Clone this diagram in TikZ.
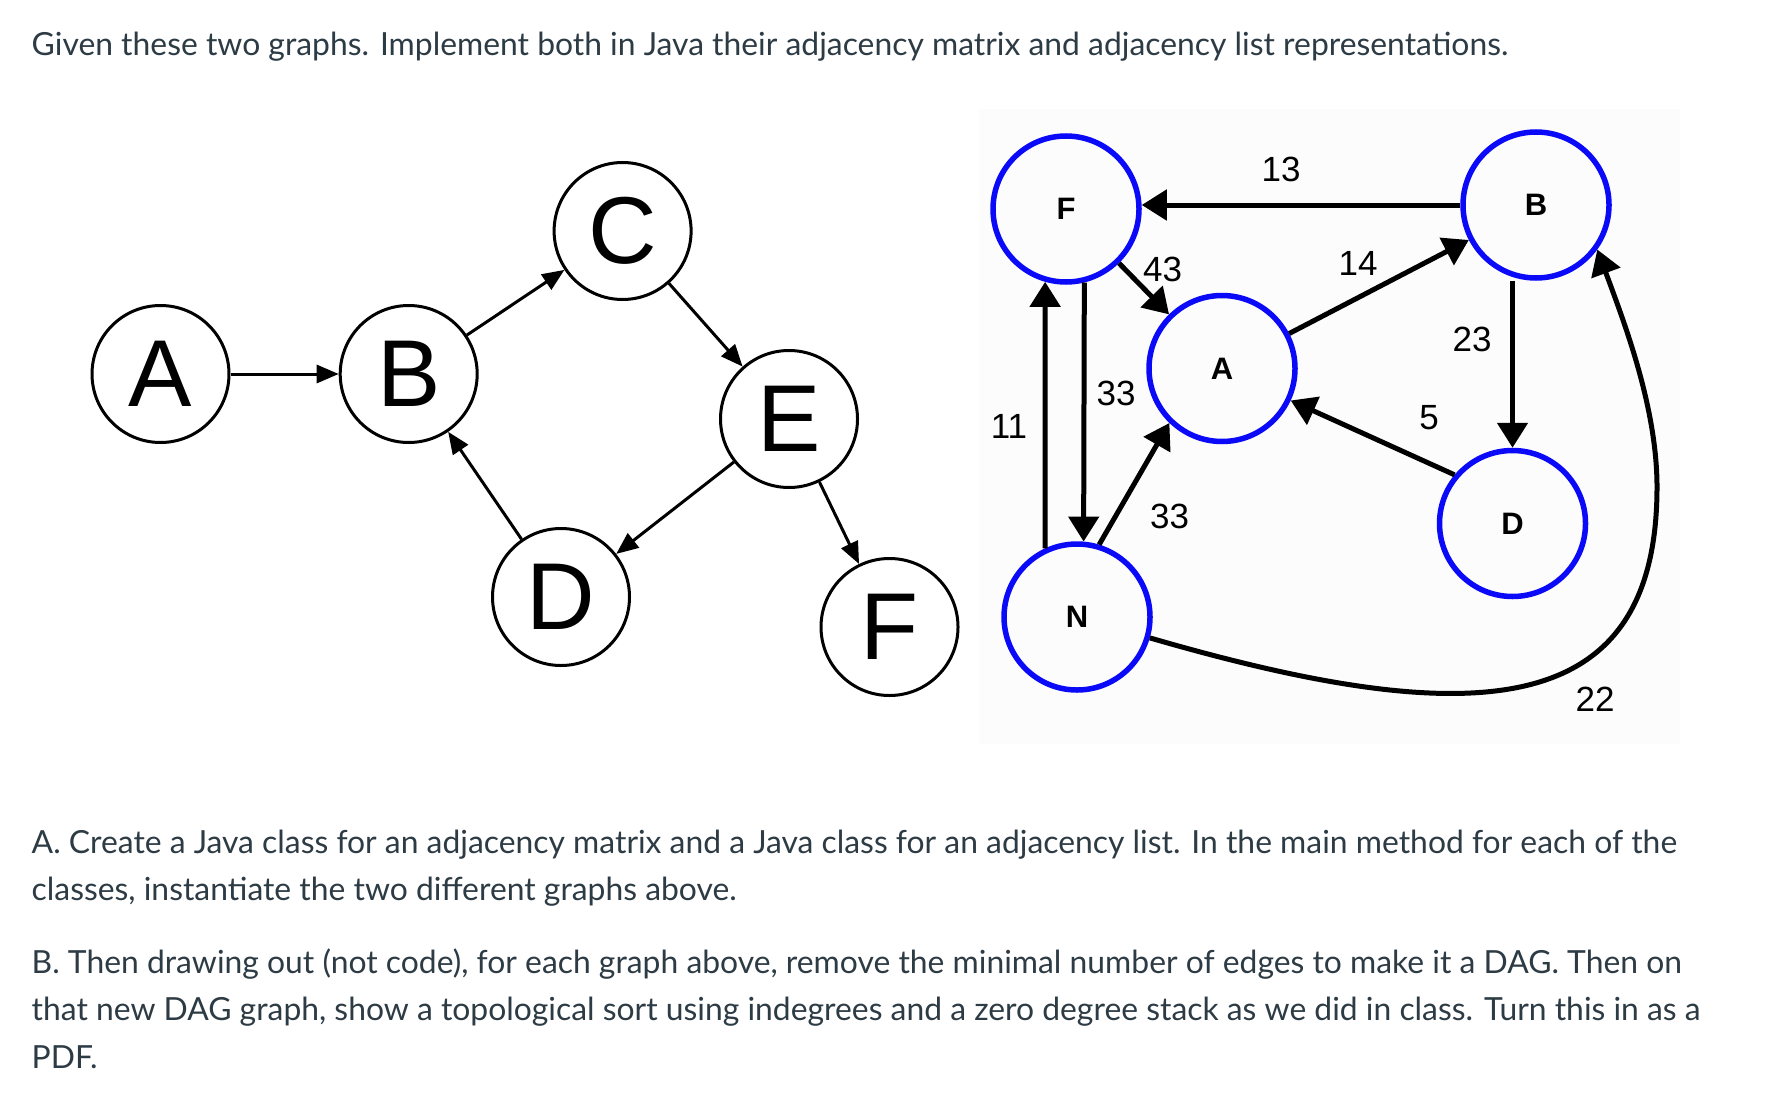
\documentclass[tikz,border=0pt]{standalone}
\usepackage{fontspec}
\setmainfont{Lato}
\newfontfamily\arial{Liberation Sans}
\usetikzlibrary{arrows.meta}
\definecolor{canvastext}{HTML}{2D3B45}
\definecolor{nodeblue}{HTML}{0A0AF8}
\begin{document}
\begin{tikzpicture}[x=1pt,y=-1pt,
  lnode/.style={circle, draw=black, line width=3pt, minimum size=137pt, inner sep=0pt, font=\arial\fontsize{95pt}{95pt}\selectfont},
  rnode/.style={circle, draw=nodeblue, line width=5.5pt, minimum size=146pt, inner sep=0pt, font=\arial\bfseries\fontsize{31pt}{31pt}\selectfont},
  larr/.style={line width=3pt, -{Triangle[length=22pt,width=18pt]}},
  rarr/.style={line width=5pt, -{Triangle[length=25pt,width=30pt]}},
  wlab/.style={font=\arial\fontsize{35pt}{35pt}\selectfont, inner sep=0pt},
  para/.style={anchor=base west, inner sep=0pt, text=canvastext, font=\fontsize{31.85pt}{36pt}\selectfont}
]
\useasboundingbox[fill=white] (0,0) rectangle (1768,1118);
\fill[gray!2.5] (979,109) rectangle (1680,744);

% text
\node[para] (title) at (31.5,56) {Given these two graphs. Implement both in Java their adjacency matrix and adjacency list representations.};
\node[para] (pa1) at (31.5,853.3) {A. Create a Java class for an adjacency matrix and a Java class for an adjacency list. In the main method for each of the};
\node[para] (pa2) at (31.5,900.7) {classes, instantiate the two different graphs above.};
\node[para] (pb1) at (31.5,973.3) {B. Then drawing out (not code), for each graph above, remove the minimal number of edges to make it a DAG. Then on};
\node[para] (pb2) at (31.5,1020.7) {that new DAG graph, show a topological sort using indegrees and a zero degree stack as we did in class. Turn this in as a};
\node[para] (pb3) at (31.5,1068.3) {PDF.};

% left graph
\node[lnode] (lA) at (160.5,374) {A};
\node[lnode] (lB) at (408.7,374) {B};
\node[lnode] (lC) at (622.6,231) {C};
\node[lnode] (lE) at (789,419) {E};
\node[lnode] (lD) at (561,597) {D};
\node[lnode] (lF) at (889.5,627) {F};
\draw[larr] (lA) -- (lB);
\draw[larr] (lB) -- (lC);
\draw[larr] (lC) -- (lE);
\draw[larr] (lE) -- (lD);
\draw[larr] (lE) -- (lF);
\draw[larr] (lD) -- (lB);

% right graph
\node[rnode] (F) at (1066,209) {F};
\node[rnode] (B) at (1536,205) {B};
\node[rnode] (A) at (1222,368.5) {A};
\node[rnode] (D) at (1512.5,523.5) {D};
\node[rnode] (N) at (1077,617) {N};
\coordinate (q) at (1657,487);

\draw[rarr] (B.west) -- (B.west -| F.east);
\draw[rarr] (F) -- (A);
\draw[rarr] (A) -- (B);
\draw[rarr] (B.south -| D.north) -- (D.north);
\draw[rarr] (D.140) -- (A.-25);
\draw[rarr] (N.115) -- (F.-106);
\draw[rarr] (F.-76) -- (N.85);
\draw[rarr] (N.73) -- (A.-134);
\draw[rarr] (N.-16) .. controls (1474,732) and (1657,722) .. (q) .. controls (1657,407) and (1624,322) .. (B.-36);

\node[wlab] (w13) at (1281,169) {13};
\node[wlab] (w43) at (1162.5,269) {43};
\node[wlab] (w14) at (1358,263) {14};
\node[wlab] (w23) at (1472,339) {23};
\node[wlab] (w33a) at (1116,393) {33};
\node[wlab] (w11) at (1009,426.5) {11};
\node[wlab] (w5) at (1429,417.6) {5};
\node[wlab] (w33b) at (1169.5,516) {33};
\node[wlab] (w22) at (1595,699) {22};
\end{tikzpicture}
\end{document}
